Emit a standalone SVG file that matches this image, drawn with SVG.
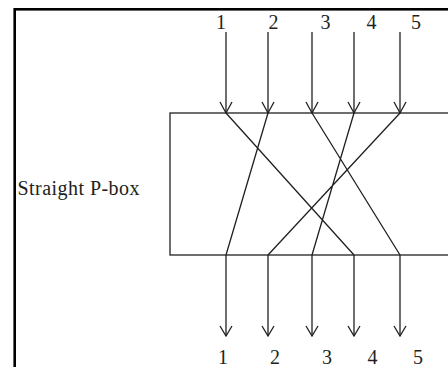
<svg xmlns="http://www.w3.org/2000/svg" width="448" height="367" viewBox="0 0 448 367">
<style>
.ln{stroke:#231f20;stroke-width:1.3;fill:none}
.ah{stroke:#231f20;stroke-width:1.3;fill:none;stroke-linejoin:miter}
.t{font-family:"Liberation Serif","Times New Roman",serif;font-size:20px;fill:#231f20}
.n{text-anchor:middle}
</style>
<rect x="14.7" y="9.3" width="500" height="500" fill="none" stroke="#000" stroke-width="2.6"/>
<g id="pbox">
<rect class="ln" x="170" y="113" width="320" height="142"/>
<text class="t" x="17.5" y="195" textLength="122">Straight P-box</text>
</g>
<g id="inputs">
<text class="t n" x="221" y="29">1</text>
<text class="t n" x="273.5" y="29">2</text>
<text class="t n" x="325.5" y="29">3</text>
<text class="t n" x="371.5" y="29">4</text>
<text class="t n" x="416" y="29">5</text>
</g>
<g id="outputs">
<text class="t n" x="223" y="364">1</text>
<text class="t n" x="275" y="364">2</text>
<text class="t n" x="327" y="364">3</text>
<text class="t n" x="372.5" y="364">4</text>
<text class="t n" x="418" y="364">5</text>
</g>
<g id="connectors">
<path class="ln" d="M226 32V113M268 32V113M312 32V113M354 32V113M400 32V113"/>
<path class="ah" d="M220 102L226 113L232 102M262 102L268 113L274 102M306 102L312 113L318 102M348 102L354 113L360 102M394 102L400 113L406 102"/>
<path class="ln" d="M226 113L354 255M268 113L226 255M312 113L400 255M354 113L312 255M400 113L268 255"/>
<path class="ln" d="M226 255V336M268 255V336M312 255V336M354 255V336M400 255V336"/>
<path class="ah" d="M220 326L226 336L232 326M262 326L268 336L274 326M306 326L312 336L318 326M348 326L354 336L360 326M394 326L400 336L406 326"/>
</g>
</svg>
